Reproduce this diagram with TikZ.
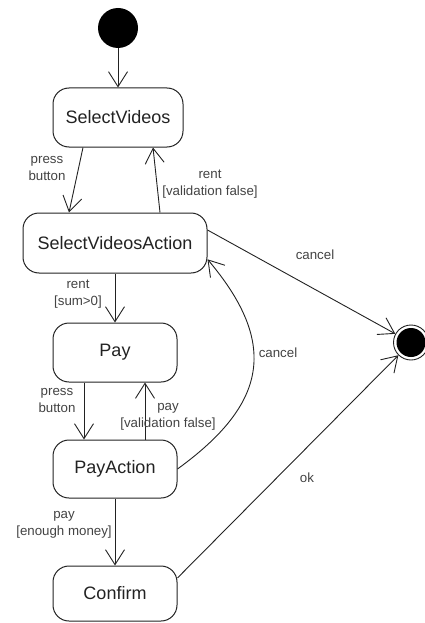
\documentclass[tikz,border=0pt]{standalone}
\usepackage{fontspec}
\setmainfont{Liberation Sans}
\usetikzlibrary{arrows.meta}
\definecolor{ink}{HTML}{222222}
\begin{document}
\begin{tikzpicture}[x=1pt,y=-1pt,
  state/.style={draw=ink,line width=1pt,rectangle,rounded corners=16pt,
    font=\fontsize{18}{21}\selectfont,text=ink,inner sep=0pt},
  trans/.style={draw=ink,line width=0.9pt,
    -{Straight Barb[length=15pt,width=19pt,line width=0.9pt]}},
  lbl/.style={font=\fontsize{13.3}{17}\selectfont,text=ink!85,align=center,inner sep=0pt}]
\useasboundingbox (0,0) rectangle (425,623);

% pseudo states
\node[circle,fill=black,minimum size=40pt,inner sep=0pt] (init) at (118,28) {};
\node[circle,draw=ink,line width=0.9pt,minimum size=35pt,inner sep=0pt] (final) at (411,342.5) {};
\fill[black] (final) circle (14.5pt);

% states
\node[state,minimum width=130pt,minimum height=59pt] (sv)   at (118,117.5) {SelectVideos};
\node[state,minimum width=184pt,minimum height=60pt] (sva)  at (115,243)   {SelectVideosAction};
\node[state,minimum width=124pt,minimum height=59pt] (pay)  at (115,352.5) {Pay};
\node[state,minimum width=124pt,minimum height=58pt] (pa)   at (115,469)   {PayAction};
\node[state,minimum width=124pt,minimum height=55pt] (conf) at (115,593.5) {Confirm};

% transitions
\draw[trans] (init) -- (sv);
\draw[trans] ([xshift=-35pt]sv.south) -- ([xshift=-46pt]sva.north);
\draw[trans] ([xshift=45pt]sva.north) -- ([xshift=35pt]sv.south);
\draw[trans] (sva.south) -- (pay.north);
\draw[trans] ([xshift=-31pt]pay.south) -- ([xshift=-31pt]pa.north);
\draw[trans] ([xshift=30pt]pa.north) -- ([xshift=30pt]pay.south);
\draw[trans] (pa.south) -- (conf.north);
\draw[trans] (sva.8) -- (final);
\draw[trans] (pa.east) .. controls (267,404) and (279,344) .. (sva.-10);
\draw[trans] (conf.14) -- (final);

% transition labels
\node[lbl] (l1) at (47,168)    {press\\button};
\node[lbl] (l2) at (210,184.5) {rent\\{}[validation false]};
\node[lbl] (l3) at (78,294.5)  {rent\\{}[sum>0]};
\node[lbl] (l4) at (57,400.5)  {press\\button};
\node[lbl] (l5) at (168,416.5) {pay\\{}[validation false]};
\node[lbl] (l6) at (64,524.5)  {pay\\{}[enough money]};
\node[lbl] (l7) at (315,255)   {cancel};
\node[lbl] (l8) at (278,353)   {cancel};
\node[lbl] (l9) at (307,478)   {ok};
\end{tikzpicture}
\end{document}
